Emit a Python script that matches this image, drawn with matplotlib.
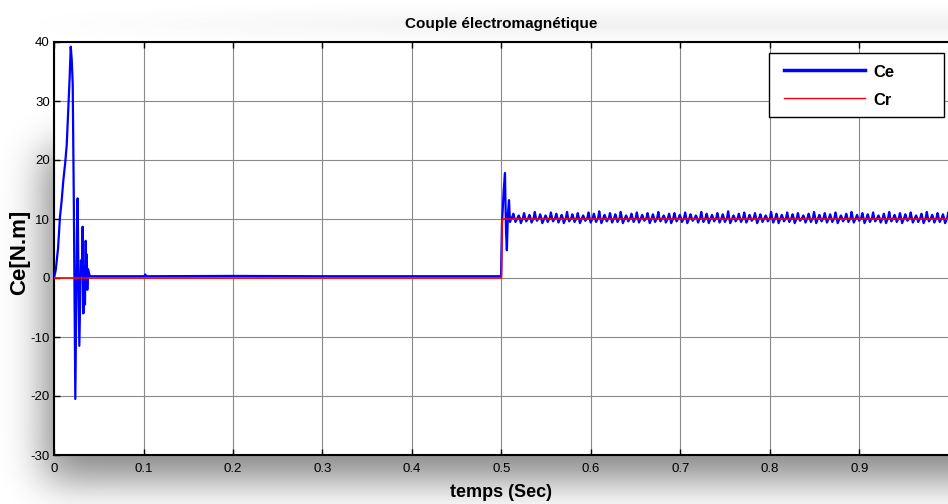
"""Couple électromagnétique: Ce vs Cr, MATLAB-style scope capture."""

import math

import matplotlib

matplotlib.use("Agg")

import matplotlib.pyplot as plt
import numpy as np
from matplotlib.patches import Rectangle

plt.rcParams["font.family"] = ["Liberation Sans", "DejaVu Sans"]

BLUE = "#0000FF"
RED = "#FF0000"
GRID = "#8a8a8a"

# --- data --------------------------------------------------------------
# start-up transient of Ce
ce_t_start = [0.0, 0.002, 0.0045, 0.0067, 0.0085, 0.0104, 0.0125, 0.0142,
              0.016, 0.0175, 0.0187, 0.0198, 0.0209, 0.0222, 0.0238, 0.0248,
              0.0257, 0.0264, 0.0272, 0.0283, 0.0292, 0.0301, 0.0311, 0.032,
              0.0328, 0.0338, 0.0346, 0.0354, 0.036, 0.0366, 0.0372, 0.038,
              0.040]
ce_v_start = [0.0, 1.4, 5.0, 10.4, 13.0, 16.5, 19.5, 22.5,
              29.0, 34.0, 39.2, 37.0, 33.0, 12.0, -20.5, -5.0,
              8.0, 13.5, 2.0, -11.5, -4.0, 3.0, 0.5, 8.7,
              -6.0, 2.0, -4.5, 6.3, -1.0, 4.0, -2.0, 1.5,
              0.3]

# no-load plateau (0.04 .. 0.5 s)
ce_t_idle = [0.06, 0.101, 0.102, 0.103, 0.2, 0.3, 0.4, 0.4995]
ce_v_idle = [0.3, 0.3, 0.6, 0.3, 0.35, 0.3, 0.3, 0.3]

# load step at 0.5 s
ce_t_step = [0.5005, 0.5025, 0.5039, 0.505, 0.506, 0.5072, 0.5084, 0.5095, 0.511]
ce_v_step = [9.0, 15.0, 17.8, 8.0, 4.7, 11.0, 13.2, 9.5, 10.2]

# steady-state ripple: one peak / one dip per 6 ms cycle from 0.512 s
ripple_period = 0.006
ripple_start = 0.512
ripple_base = 10.2
ripple_peaks = [10.9, 10.6, 11.0, 10.7, 11.2, 10.8, 10.6, 11.1, 10.9, 10.7,
                11.2, 10.8, 11.0, 10.6, 11.1, 10.9, 11.3, 10.7, 11.0, 10.8,
                11.2, 10.6, 10.9, 11.1, 10.7, 11.0, 10.8, 11.2, 10.6, 10.9,
                11.0, 10.7, 11.1, 10.8, 10.6, 11.2, 10.9, 10.7, 11.0, 10.8,
                11.3, 10.6, 10.9, 11.1, 10.7, 11.0, 10.8, 10.6, 11.2, 10.9,
                10.7, 11.1, 10.8, 11.0, 10.6, 10.9, 11.2, 10.7, 11.0, 10.8,
                11.1, 10.6, 10.9, 11.2, 10.7, 11.0, 10.8, 11.1, 10.6, 10.9,
                11.2, 10.7, 11.0, 10.8, 11.1, 10.6, 10.9, 11.2, 10.7, 11.0,
                10.8, 11.1]
ripple_dips = [9.5, 9.3, 9.6, 9.4, 9.7, 9.3, 9.5, 9.6, 9.4, 9.3,
               9.6, 9.5, 9.3, 9.7, 9.4, 9.5, 9.3, 9.6, 9.4, 9.5,
               9.3, 9.6, 9.5, 9.4, 9.7, 9.3, 9.5, 9.6, 9.4, 9.3,
               9.6, 9.5, 9.3, 9.7, 9.4, 9.5, 9.3, 9.6, 9.4, 9.5,
               9.3, 9.6, 9.5, 9.4, 9.7, 9.3, 9.5, 9.6, 9.4, 9.3,
               9.6, 9.5, 9.3, 9.7, 9.4, 9.5, 9.3, 9.6, 9.4, 9.5,
               9.3, 9.6, 9.5, 9.4, 9.7, 9.3, 9.5, 9.6, 9.4, 9.3,
               9.6, 9.5, 9.3, 9.7, 9.4, 9.5, 9.3, 9.6, 9.4, 9.5,
               9.3, 9.6]

# load torque reference
cr_t = [0.0, 0.5, 0.5008, 1.0]
cr_v = [0.0, 0.0, 10.0, 10.0]

x_ticks = [0, 0.1, 0.2, 0.3, 0.4, 0.5, 0.6, 0.7, 0.8, 0.9]
y_ticks = [-30, -20, -10, 0, 10, 20, 30, 40]
series_names = ["Ce", "Cr"]

# assemble the ripple section (sample instants inside each cycle)
n_cyc = len(ripple_peaks)
cyc0 = ripple_start + ripple_period * np.arange(n_cyc)
frac = np.array([0.0, 0.2, 0.4, 0.6])
rip_t = (cyc0[:, None] + frac[None, :] * ripple_period).ravel()
rip_v = np.column_stack([
    np.full(n_cyc, ripple_base), ripple_peaks,
    np.full(n_cyc, ripple_base), ripple_dips,
]).ravel()

ce_t = np.concatenate([ce_t_start, ce_t_idle, ce_t_step, rip_t])
ce_v = np.concatenate([ce_v_start, ce_v_idle, ce_v_step, rip_v])

# --- figure ---------------------------------------------------------------
W, H = 948, 504
fig = plt.figure(figsize=(W / 100, H / 100), dpi=100, facecolor="white")

# soft drop shadow behind the axes, like the exported screenshot
erf = np.vectorize(math.erf)
xs = np.arange(W) + 0.5
ys = np.arange(H) + 0.5
s = 20 * math.sqrt(2)
fx = 0.5 * (erf((1200 - xs) / s) - erf((45 - xs) / s))
fy = 0.5 * (erf((480 - ys) / s) - erf((150 - ys) / s))
shade = 1 - 0.47 * fy[:, None] * fx[None, :]
shade -= 0.05 * np.exp(-((ys[:, None] - 25) / 14) ** 2) * np.clip(xs[None, :] / 500, 0, 1)
bg = fig.add_axes([0, 0, 1, 1], zorder=-5)
bg.imshow(shade, cmap="gray", vmin=0, vmax=1, aspect="auto", interpolation="bilinear")
bg.axis("off")

ax = fig.add_axes([54 / W, 1 - 455 / H, 895 / W, 413 / H])
ax.set_facecolor("white")

ce_line, = ax.plot(ce_t, ce_v, color=BLUE, lw=1.6, zorder=3)
cr_line, = ax.plot(cr_t, cr_v, color=RED, lw=1.2, zorder=4)

ax.set_xlim(0, 1)
ax.set_ylim(-30, 40)
ax.set_xticks(x_ticks, [f"{v:g}" for v in x_ticks])
ax.set_yticks(y_ticks, [str(v) for v in y_ticks])
ax.tick_params(axis="x", direction="in", length=4, width=1, top=True,
               labelsize=9.5, pad=6, colors="black")
ax.tick_params(axis="y", direction="in", length=4, width=1,
               labelsize=9.5, pad=3, colors="black")
ax.grid(True, color=GRID, lw=0.8)
ax.set_axisbelow(True)
for side in ("bottom", "left", "top"):
    ax.spines[side].set_linewidth(1.5)
ax.spines["right"].set_visible(False)

ax.set_title("Couple électromagnétique", fontsize=11, fontweight="bold", pad=10)
ax.set_xlabel("temps (Sec)", fontsize=13, fontweight="bold", labelpad=6)
ax.set_ylabel("Ce[N.m]", fontsize=16, fontweight="bold")
ax.yaxis.set_label_coords(-0.027, 0.49)

# MATLAB-style legend box with wide right margin
ax.add_patch(Rectangle((0.7989, 0.8184), 0.1955, 0.155, transform=ax.transAxes,
                       facecolor="white", edgecolor="black", lw=1.0,
                       zorder=6, clip_on=False))
for name, line, ly, lw in zip(series_names, (ce_line, cr_line),
                              (0.9325, 0.864), (2.5, 1.0)):
    ax.plot([0.8156, 0.9061], [ly, ly], transform=ax.transAxes,
            color=line.get_color(), lw=lw, zorder=7, clip_on=False)
    ax.text(0.9151, ly - 0.006, name, transform=ax.transAxes, fontsize=12,
            fontweight="bold", ha="left", va="center", zorder=7)

fig.savefig("out.png", dpi=100, facecolor=fig.get_facecolor())
